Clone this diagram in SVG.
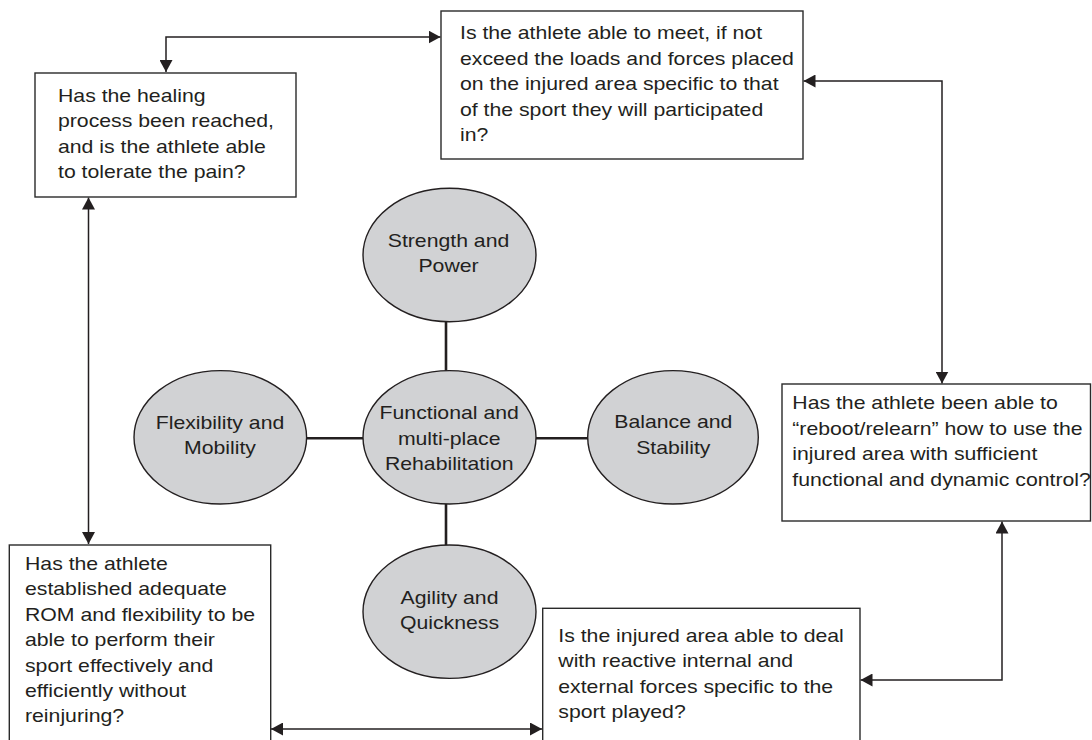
<svg xmlns="http://www.w3.org/2000/svg" width="1092" height="740" viewBox="0 0 1092 740">
<style>
.box{fill:#fff;stroke:#2a2a2a;stroke-width:1.4}
.ell{fill:#d1d2d4;stroke:#231f20;stroke-width:1.4}
.t{font-family:"Liberation Sans",Arial,sans-serif;font-size:18px;fill:#231f20}
.c{text-anchor:middle}
.arr{fill:none;stroke:#231f20;stroke-width:1.5;marker-start:url(#ah);marker-end:url(#ah)}
.spoke{fill:none;stroke:#231f20;stroke-width:2.6}
</style>
<defs>
<marker id="ah" viewBox="0 0 12 13" refX="12" refY="6.5" markerWidth="12" markerHeight="13" markerUnits="userSpaceOnUse" orient="auto-start-reverse">
<path d="M0,0 L12,6.5 L0,13 z" fill="#231f20"/>
</marker>
</defs>
<rect width="1092" height="740" fill="#fff"/>
<g id="connectors">
<path class="arr" d="M166,72 V37 H440.5"/>
<path class="arr" d="M803.5,81 H942 V383.5"/>
<path class="arr" d="M1002,521.5 V680 H860.5"/>
<path class="arr" d="M88.5,197.5 V544"/>
<path class="arr" d="M271,729 H542"/>
<path class="spoke" d="M446,321.5 V371"/>
<path class="spoke" d="M446,504 V545"/>
<path class="spoke" d="M306.5,438.3 H363"/>
<path class="spoke" d="M536,438.3 H588"/>
</g>
<g id="box-healing">
<rect class="box" x="35" y="73" width="261" height="124"/>
<g transform="translate(58 0) scale(1.18 1)"><text class="t"><tspan x="0" y="101.7">Has the healing</tspan><tspan x="0" y="127.2">process been reached,</tspan><tspan x="0" y="152.7">and is the athlete able</tspan><tspan x="0" y="178.2">to tolerate the pain?</tspan></text></g>
</g>
<g id="box-loads">
<rect class="box" x="441" y="11" width="362" height="148"/>
<g transform="translate(460 0) scale(1.18 1)"><text class="t"><tspan x="0" y="39.5">Is the athlete able to meet, if not</tspan><tspan x="0" y="65">exceed the loads and forces placed</tspan><tspan x="0" y="90.5">on the injured area specific to that</tspan><tspan x="0" y="116">of the sport they will participated</tspan><tspan x="0" y="141.5">in?</tspan></text></g>
</g>
<g id="box-reboot">
<rect class="box" x="782" y="384" width="308.5" height="137"/>
<g transform="translate(792.3 0) scale(1.18 1)"><text class="t"><tspan x="0" y="409.5">Has the athlete been able to</tspan><tspan x="0" y="435">“reboot/relearn” how to use the</tspan><tspan x="0" y="460.5">injured area with sufficient</tspan><tspan x="0" y="486">functional and dynamic control?</tspan></text></g>
</g>
<g id="box-reactive">
<rect class="box" x="542.7" y="608.3" width="317.3" height="140"/>
<g transform="translate(558.3 0) scale(1.18 1)"><text class="t"><tspan x="0" y="641.7">Is the injured area able to deal</tspan><tspan x="0" y="667.2">with reactive internal and</tspan><tspan x="0" y="692.7">external forces specific to the</tspan><tspan x="0" y="718.2">sport played?</tspan></text></g>
</g>
<g id="box-rom">
<rect class="box" x="9.3" y="545" width="261.4" height="203"/>
<g transform="translate(25 0) scale(1.18 1)"><text class="t"><tspan x="0" y="570">Has the athlete</tspan><tspan x="0" y="595.4">established adequate</tspan><tspan x="0" y="620.8">ROM and flexibility to be</tspan><tspan x="0" y="646.2">able to perform their</tspan><tspan x="0" y="671.6">sport effectively and</tspan><tspan x="0" y="697">efficiently without</tspan><tspan x="0" y="722.4">reinjuring?</tspan></text></g>
</g>
<g id="ell-strength">
<ellipse class="ell" cx="449.5" cy="255" rx="86.5" ry="66.7"/>
<g transform="translate(448.5 0) scale(1.18 1)"><text class="t c"><tspan x="0" y="246.7">Strength and</tspan><tspan x="0" y="272">Power</tspan></text></g>
</g>
<g id="ell-center">
<ellipse class="ell" cx="449.5" cy="437.3" rx="86.5" ry="66.7"/>
<g transform="translate(449.2 0) scale(1.18 1)"><text class="t c"><tspan x="0" y="419.3">Functional and</tspan><tspan x="0" y="444.8">multi-place</tspan><tspan x="0" y="470.5">Rehabilitation</tspan></text></g>
</g>
<g id="ell-flex">
<ellipse class="ell" cx="220.3" cy="437.3" rx="86.3" ry="66.7"/>
<g transform="translate(220 0) scale(1.18 1)"><text class="t c"><tspan x="0" y="429.3">Flexibility and</tspan><tspan x="0" y="454.5">Mobility</tspan></text></g>
</g>
<g id="ell-balance">
<ellipse class="ell" cx="673" cy="437.3" rx="85.3" ry="66.7"/>
<g transform="translate(673.3 0) scale(1.18 1)"><text class="t c"><tspan x="0" y="428.5">Balance and</tspan><tspan x="0" y="454.3">Stability</tspan></text></g>
</g>
<g id="ell-agility">
<ellipse class="ell" cx="449.5" cy="611.7" rx="86.5" ry="66.7"/>
<g transform="translate(449.5 0) scale(1.18 1)"><text class="t c"><tspan x="0" y="603.7">Agility and</tspan><tspan x="0" y="628.9">Quickness</tspan></text></g>
</g>
</svg>
